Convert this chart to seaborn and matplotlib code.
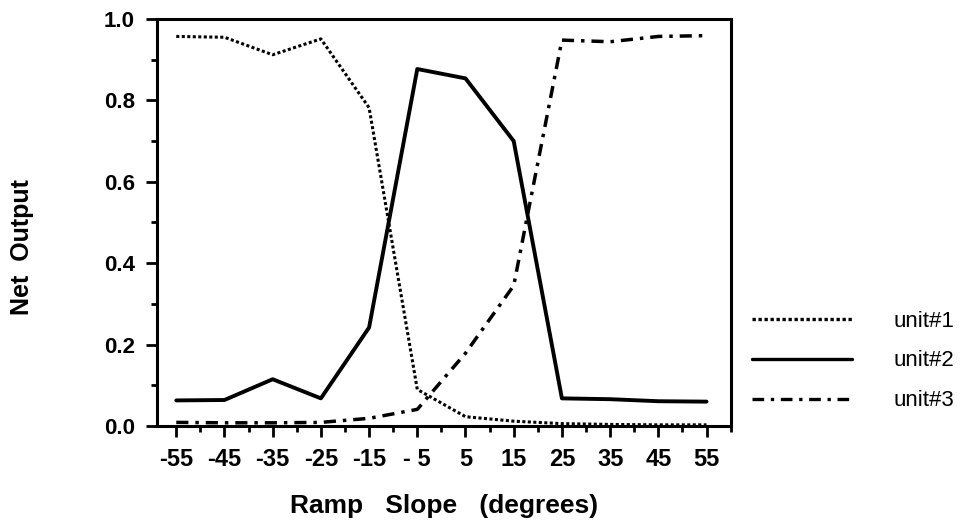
import matplotlib
matplotlib.use("Agg")
import matplotlib.pyplot as plt
import numpy as np
import pandas as pd
import seaborn as sns
from matplotlib.ticker import MultipleLocator

sns.set_theme(style="white")
plt.rcParams["font.family"] = ["Liberation Sans", "DejaVu Sans"]
plt.rcParams["text.color"] = "black"
plt.rcParams["axes.labelcolor"] = "black"

# Ramp slope (degrees) and network outputs
slopes = [-55, -45, -35, -25, -15, -5, 5, 15, 25, 35, 45, 55]
unit1 = [0.957, 0.955, 0.912, 0.951, 0.782, 0.090, 0.023, 0.012, 0.006, 0.004, 0.003, 0.003]
unit2 = [0.063, 0.064, 0.115, 0.068, 0.242, 0.877, 0.854, 0.700, 0.068, 0.066, 0.061, 0.060]
unit3 = [0.009, 0.008, 0.008, 0.009, 0.019, 0.041, 0.179, 0.345, 0.948, 0.944, 0.957, 0.959]
tick_labels = ["-55", "-45", "-35", "-25", "-15", "- 5", "5", "15", "25", "35", "45", "55"]

series = {"unit#1": unit1, "unit#2": unit2, "unit#3": unit3}
styles = {
    "unit#1": dict(linestyle=(0, (1, 0.8)), linewidth=2.2),
    "unit#2": dict(linestyle="-", linewidth=2.8),
    "unit#3": dict(linestyle=(0, (3.5, 2, 1, 2)), linewidth=2.5),
}

fig = plt.figure(figsize=(9.69, 5.26), dpi=100)
ax = fig.add_axes([0.162, 0.190, 0.592, 0.774])

for name, vals in series.items():
    df = pd.DataFrame({"slope": slopes, "output": vals})
    sns.lineplot(data=df, x="slope", y="output", color="black", label=name,
                 ax=ax, **styles[name])

ax.set_xlim(-59, 60)
ax.set_ylim(0, 1.0)
ax.set_xticks(slopes)
ax.set_xticklabels(tick_labels)
ax.xaxis.set_minor_locator(MultipleLocator(10))
ax.set_yticks([0.0, 0.2, 0.4, 0.6, 0.8, 1.0])
ax.set_yticklabels(["0.0", "0.2", "0.4", "0.6", "0.8", "1.0"])
ax.yaxis.set_minor_locator(MultipleLocator(0.1))

ax.tick_params(axis="both", which="major", direction="out", length=8, width=2,
               color="black", labelcolor="black", pad=8)
ax.tick_params(axis="x", which="major", labelsize=17)
ax.tick_params(axis="y", which="major", labelsize=16)
ax.tick_params(axis="both", which="minor", direction="out", length=4, width=2,
               color="black")
ax.tick_params(axis="x", bottom=True, which="both")
ax.tick_params(axis="y", left=True, which="both")
for lab in ax.get_xticklabels() + ax.get_yticklabels():
    lab.set_fontweight("bold")

for sp in ax.spines.values():
    sp.set_linewidth(2.2)
    sp.set_color("black")

ax.set_xlabel("Ramp   Slope   (degrees)", fontsize=19, fontweight="bold",
              labelpad=16, color="black")
ax.set_ylabel("Net  Output", fontsize=18, fontweight="bold", color="black")
ax.yaxis.set_label_coords(-0.215, 0.44)

leg = ax.legend(loc="center left", bbox_to_anchor=(1.002, 0.16), frameon=False,
                fontsize=16, handlelength=4.5, handletextpad=1.9, labelspacing=0.85)
for line in leg.get_lines():
    line.set_linewidth(2.4)
for txt in leg.get_texts():
    txt.set_color("black")

fig.savefig("out.png", dpi=100)
